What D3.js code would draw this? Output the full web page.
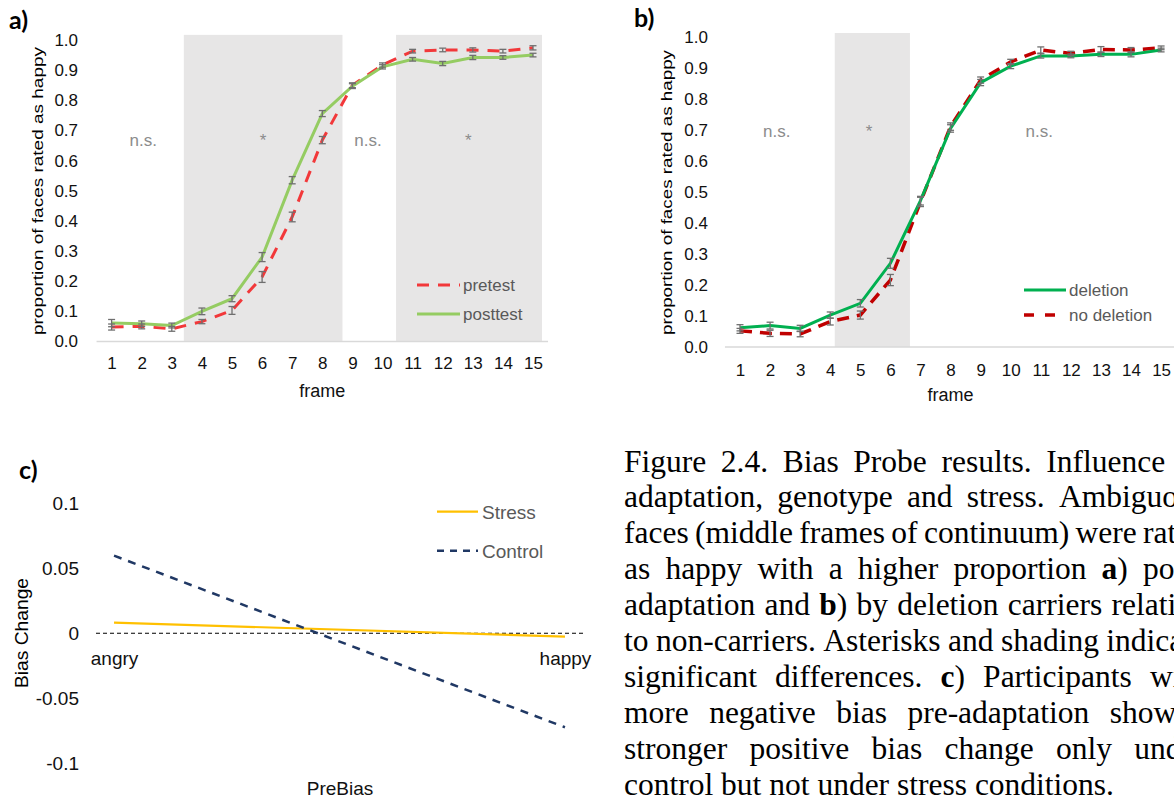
<!DOCTYPE html>
<html>
<head>
<meta charset="utf-8">
<script src="https://cdn.jsdelivr.net/npm/d3@7"></script>
<style>
  html, body { margin: 0; padding: 0; background: #fff; overflow: hidden; }
  svg { display: block; }
</style>
</head>
<body>
<svg id="fig" width="1174" height="803"></svg>
<script>
// ---------- data ----------
const frames = [1, 2, 3, 4, 5, 6, 7, 8, 9, 10, 11, 12, 13, 14, 15];
const proportionTicks = [0, 0.1, 0.2, 0.3, 0.4, 0.5, 0.6, 0.7, 0.8, 0.9, 1.0];

// a) adaptation: pretest vs posttest
const pretest     = [0.048, 0.050, 0.042, 0.066, 0.103, 0.214, 0.413, 0.668, 0.850, 0.917, 0.963, 0.967, 0.967, 0.963, 0.974];
const pretestErr  = [0.010, 0.008, 0.008, 0.007, 0.013, 0.018, 0.016, 0.012, 0.008, 0.007, 0.006, 0.006, 0.007, 0.006, 0.007];
const posttest    = [0.061, 0.059, 0.053, 0.100, 0.142, 0.280, 0.535, 0.756, 0.847, 0.911, 0.936, 0.922, 0.942, 0.942, 0.950];
const posttestErr = [0.012, 0.009, 0.008, 0.011, 0.010, 0.015, 0.012, 0.010, 0.008, 0.007, 0.006, 0.007, 0.007, 0.006, 0.006];
const adaptationShading = [[3.4, 8.67], [10.45, 15.3]];           // significant frame ranges
const adaptationNotes = [
  { frame: 2.05, text: "n.s." }, { frame: 6.03, text: "*" },
  { frame: 9.52, text: "n.s." }, { frame: 12.85, text: "*" }
];

// b) genotype: deletion carriers vs non-carriers
const deletion      = [0.062, 0.069, 0.060, 0.103, 0.141, 0.270, 0.472, 0.705, 0.853, 0.906, 0.939, 0.939, 0.944, 0.944, 0.958];
const deletionErr   = [0.010, 0.011, 0.010, 0.010, 0.012, 0.016, 0.014, 0.012, 0.010, 0.008, 0.007, 0.006, 0.007, 0.008, 0.006];
const noDeletion    = [0.052, 0.044, 0.042, 0.082, 0.103, 0.216, 0.468, 0.711, 0.861, 0.920, 0.958, 0.947, 0.960, 0.958, 0.965];
const noDeletionErr = [0.008, 0.010, 0.009, 0.011, 0.013, 0.018, 0.015, 0.012, 0.010, 0.008, 0.010, 0.007, 0.009, 0.008, 0.006];
const genotypeShading = [[4.15, 6.65]];
const genotypeNotes = [
  { frame: 2.22, text: "n.s." }, { frame: 5.29, text: "*" }, { frame: 10.95, text: "n.s." }
];

// c) bias change by pre-adaptation bias
const preBiasLevels = ["angry", "happy"];
const stressChange  = [0.0082, -0.0026];
const controlChange = [0.0597, -0.0723];
const biasTicks = [0.1, 0.05, 0, -0.05, -0.1];

// caption
const captionLines = [
  "Figure 2.4. Bias Probe results. Influence of",
  "adaptation, genotype and stress. Ambiguous",
  "faces (middle frames of continuum) were rated",
  "as happy with a higher proportion a) post-",
  "adaptation and b) by deletion carriers relative",
  "to non-carriers. Asterisks and shading indicate",
  "significant differences. c) Participants with",
  "more negative bias pre-adaptation showed",
  "stronger positive bias change only under",
  "control but not under stress conditions."
];

// ---------- drawing ----------
const SANS = "'Liberation Sans', Arial, sans-serif";
const SERIF = "'Liberation Serif', 'Times New Roman', serif";
const svg = d3.select("#fig");

function panelLabel(text, x, y) {
  svg.append("text").attr("x", x).attr("y", y).text(text)
    .attr("font-family", "Lato, 'Open Sans', sans-serif").attr("font-weight", 700)
    .attr("font-size", 25).attr("fill", "#000");
}

function yTitle(text, cx, cy, size, length) {
  svg.append("text")
    .attr("transform", `translate(${cx},${cy}) rotate(-90)`)
    .attr("text-anchor", "middle")
    .attr("font-family", SANS).attr("font-size", size).attr("fill", "#000")
    .attr("textLength", length).attr("lengthAdjust", "spacingAndGlyphs")
    .text(text);
}

function framePanel(o) {
  const g = svg.append("g");
  const x = d3.scaleLinear().domain([1, 15]).range(o.xRange);
  const y = d3.scaleLinear().domain([0, 1]).range(o.yRange);

  g.selectAll("rect.shade").data(o.shading).join("rect")
    .attr("class", "shade")
    .attr("x", d => x(d[0])).attr("width", d => x(d[1]) - x(d[0]))
    .attr("y", y(o.shadeTop)).attr("height", y(0) - y(o.shadeTop))
    .attr("fill", "#e7e6e6");

  g.append("line")
    .attr("x1", x(0.5)).attr("x2", x(15.5)).attr("y1", y(0)).attr("y2", y(0))
    .attr("stroke", "#d9d9d9").attr("stroke-width", 1.5);

  g.append("g").attr("transform", `translate(0,${y(0)})`)
    .call(d3.axisBottom(x).tickValues(frames).tickFormat(d3.format("d")).tickSize(0).tickPadding(o.xPad))
    .call(a => a.select(".domain").remove())
    .attr("font-family", SANS).attr("font-size", 17)
    .selectAll("text").attr("fill", "#111");

  g.append("g").attr("transform", `translate(${x(0.5)},0)`)
    .call(d3.axisLeft(y).tickValues(proportionTicks).tickFormat(d3.format(".1f")).tickSize(0).tickPadding(o.yPad))
    .call(a => a.select(".domain").remove())
    .attr("font-family", SANS).attr("font-size", 17)
    .selectAll("text").attr("fill", "#111");

  g.append("text").attr("x", (x(0.5) + x(15.5)) / 2).attr("y", o.frameTitleY)
    .attr("text-anchor", "middle").attr("font-family", SANS).attr("font-size", 18)
    .attr("fill", "#111").text("frame");

  g.selectAll("text.note").data(o.notes).join("text")
    .attr("class", "note")
    .attr("x", d => x(d.frame)).attr("y", y(o.noteLevel))
    .attr("text-anchor", "middle").attr("font-family", SANS).attr("font-size", 17)
    .attr("fill", "#8c8c8c").text(d => d.text);

  const line = d3.line().x((d, i) => x(frames[i])).y(d => y(d));
  o.series.forEach(s => {
    g.append("path").datum(s.values)
      .attr("d", line).attr("fill", "none")
      .attr("stroke", s.color).attr("stroke-width", s.width)
      .attr("stroke-dasharray", s.dash || null);
  });
  o.series.forEach(s => {
    const eb = g.append("g").attr("stroke", "#6f6f6f").attr("stroke-width", 1.3);
    s.values.forEach((v, i) => {
      const cx = x(frames[i]), y0 = y(v - s.err[i]), y1 = y(v + s.err[i]);
      eb.append("line").attr("x1", cx).attr("x2", cx).attr("y1", y0).attr("y2", y1);
      eb.append("line").attr("x1", cx - 3.5).attr("x2", cx + 3.5).attr("y1", y0).attr("y2", y0);
      eb.append("line").attr("x1", cx - 3.5).attr("x2", cx + 3.5).attr("y1", y1).attr("y2", y1);
    });
  });

  o.legend.forEach((d, i) => {
    const ly = o.legendY + i * o.legendGap;
    g.append("line").attr("x1", o.legendX).attr("x2", o.legendX + o.legendLen)
      .attr("y1", ly).attr("y2", ly)
      .attr("stroke", d.color).attr("stroke-width", d.width).attr("stroke-dasharray", d.dash || null);
    g.append("text").attr("x", o.legendX + o.legendLen + 3).attr("y", ly + 6)
      .attr("font-family", SANS).attr("font-size", 17).attr("fill", "#595959").text(d.label);
  });
}

// a)
panelLabel("a)", 9, 29);
yTitle("proportion of faces rated as happy", 43, 191, 15, 288);
framePanel({
  xRange: [111.6, 533], yRange: [341.5, 40], shadeTop: 1.017,
  shading: adaptationShading, xPad: 15.5, yPad: 18.5, frameTitleY: 397,
  notes: adaptationNotes, noteLevel: 0.648,
  series: [
    { values: pretest, err: pretestErr, color: "#f2383a", width: 3, dash: "12,9" },
    { values: posttest, err: posttestErr, color: "#95cc62", width: 3 }
  ],
  legend: [
    { label: "pretest", color: "#f2383a", width: 3, dash: "12,9" },
    { label: "posttest", color: "#95cc62", width: 3 }
  ],
  legendX: 417, legendLen: 43, legendY: 285, legendGap: 29
});

// b)
panelLabel("b)", 634, 27);
yTitle("proportion of faces rated as happy", 672, 192.5, 15, 285);
framePanel({
  xRange: [740, 1161.1], yRange: [347, 37], shadeTop: 1.013,
  shading: genotypeShading, xPad: 16.5, yPad: 17, frameTitleY: 401,
  notes: genotypeNotes, noteLevel: 0.677,
  series: [
    { values: noDeletion, err: noDeletionErr, color: "#c00000", width: 3.5, dash: "12,8" },
    { values: deletion, err: deletionErr, color: "#00b050", width: 3 }
  ],
  legend: [
    { label: "deletion", color: "#00b050", width: 3 },
    { label: "no deletion", color: "#c00000", width: 3.5, dash: "10,11" }
  ],
  legendX: 1024, legendLen: 42, legendY: 290, legendGap: 25
});

// c)
panelLabel("c)", 19, 479);
yTitle("Bias Change", 28, 633, 19, 110);
{
  const g = svg.append("g");
  const x = d3.scalePoint().domain(preBiasLevels).range([96, 583]).padding(0.04);
  const y = d3.scaleLinear().domain([-0.1, 0.1]).range([763.3, 503.3]);

  g.append("g").attr("transform", `translate(96,0)`)
    .call(d3.axisLeft(y).tickValues(biasTicks).tickFormat(d => String(d)).tickSize(0).tickPadding(17))
    .call(a => a.select(".domain").remove())
    .attr("font-family", SANS).attr("font-size", 19)
    .selectAll("text").attr("fill", "#111");

  g.append("line").attr("x1", 96).attr("x2", 583).attr("y1", y(0)).attr("y2", y(0))
    .attr("stroke", "#000").attr("stroke-width", 1.1).attr("stroke-dasharray", "4,3");

  g.append("g").attr("transform", `translate(0,${y(0)})`)
    .call(d3.axisBottom(x).tickSize(0).tickPadding(18))
    .call(a => a.select(".domain").remove())
    .attr("font-family", SANS).attr("font-size", 19)
    .selectAll("text").attr("fill", "#111");

  const line = d3.line().x((d, i) => x(preBiasLevels[i])).y(d => y(d));
  g.append("path").datum(stressChange).attr("d", line).attr("fill", "none")
    .attr("stroke", "#ffc000").attr("stroke-width", 2.2);
  g.append("path").datum(controlChange).attr("d", line).attr("fill", "none")
    .attr("stroke", "#203864").attr("stroke-width", 2.5).attr("stroke-dasharray", "8,7");

  [{ label: "Stress", color: "#ffc000", width: 2.2 },
   { label: "Control", color: "#203864", width: 2.5, dash: "7,6" }].forEach((d, i) => {
    const ly = 511.7 + i * 39;
    g.append("line").attr("x1", 437).attr("x2", 478).attr("y1", ly).attr("y2", ly)
      .attr("stroke", d.color).attr("stroke-width", d.width).attr("stroke-dasharray", d.dash || null);
    g.append("text").attr("x", 482).attr("y", ly + 7)
      .attr("font-family", SANS).attr("font-size", 19).attr("fill", "#595959").text(d.label);
  });

  g.append("text").attr("x", 340).attr("y", 795).attr("text-anchor", "middle")
    .attr("font-family", SANS).attr("font-size", 19).attr("fill", "#111").text("PreBias");
}

// caption, justified like the printed page (its right margin lies past the page edge)
{
  const left = 624, width = 582, size = 31.5, lead = 35.9, top = 471.5;
  const g = svg.append("g").attr("font-family", SERIF).attr("font-size", size).attr("fill", "#000");
  captionLines.forEach((ln, li) => {
    const words = ln.split(" ");
    const nodes = words.map(w => {
      const t = g.append("text").attr("y", top + li * lead);
      const m = w.match(/^([abc])(\))$/);
      if (m) {
        t.append("tspan").attr("font-weight", 700).text(m[1]);
        t.append("tspan").text(m[2]);
      } else {
        t.text(w);
      }
      return t;
    });
    const widths = nodes.map(t => t.node().getComputedTextLength());
    const total = d3.sum(widths);
    const last = li === captionLines.length - 1;
    const gap = last ? size * 0.25 : (width - total) / (words.length - 1);
    let cx = left;
    nodes.forEach((t, i) => { t.attr("x", cx); cx += widths[i] + gap; });
  });
}
</script>
</body>
</html>
